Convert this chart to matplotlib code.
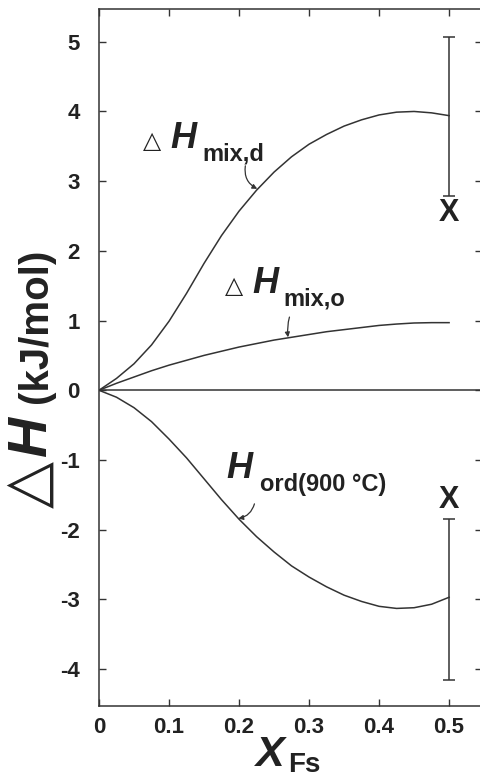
import numpy as np
import matplotlib
matplotlib.use('Agg')
import matplotlib.pyplot as plt

# mole fraction of Fs
x_fs = [0, 0.025, 0.05, 0.075, 0.1, 0.125, 0.15, 0.175, 0.2, 0.225, 0.25,
        0.275, 0.3, 0.325, 0.35, 0.375, 0.4, 0.425, 0.45, 0.475, 0.5]

# enthalpies (kJ/mol)
h_mix_d = [0, 0.17, 0.38, 0.65, 0.99, 1.39, 1.82, 2.22, 2.57, 2.87, 3.13,
           3.35, 3.53, 3.67, 3.79, 3.88, 3.95, 3.99, 4.0, 3.98, 3.94]
h_mix_o = [0, 0.1, 0.19, 0.28, 0.36, 0.43, 0.5, 0.56, 0.62, 0.67, 0.72,
           0.76, 0.8, 0.84, 0.87, 0.9, 0.93, 0.95, 0.965, 0.97, 0.97]
h_ord = [0, -0.1, -0.25, -0.45, -0.7, -0.97, -1.27, -1.57, -1.85, -2.1, -2.32,
         -2.52, -2.68, -2.82, -2.94, -3.03, -3.1, -3.13, -3.12, -3.07, -2.97]

# uncertainty bars at X = 0.5
bar_x = [0.5, 0.5]
bar_lo = [2.79, -4.15]
bar_hi = [5.07, -1.85]

xticks = [0, 0.1, 0.2, 0.3, 0.4, 0.5]
xticklabels = ['0', '0.1', '0.2', '0.3', '0.4', '0.5']
yticks = [-4, -3, -2, -1, 0, 1, 2, 3, 4, 5]

ink = '#333333'
txt = '#222222'
plt.rcParams['font.family'] = ['Liberation Sans', 'DejaVu Sans']
plt.rcParams['axes.unicode_minus'] = False

W, H = 481, 780
fig = plt.figure(figsize=(W / 100, H / 100), dpi=100)
ax = fig.add_axes([99 / W, 1 - 706 / H, (482 - 99) / W, 697 / H])

def fx(px):
    return px / W

def fy(py):
    return 1 - py / H

# curves
ax.plot(x_fs, h_mix_d, color=ink, lw=1.1)
ax.plot(x_fs, h_mix_o, color=ink, lw=1.1)
ax.plot(x_fs, h_ord, color=ink, lw=1.1)
ax.axhline(0, color=ink, lw=1.1)

# error bars
mid = [(a + b) / 2 for a, b in zip(bar_lo, bar_hi)]
half = [(b - a) / 2 for a, b in zip(bar_lo, bar_hi)]
ax.errorbar(bar_x, mid, yerr=half, fmt='none', ecolor=ink, elinewidth=1.1,
            capsize=4.5, capthick=1.1)
ax.text(0.5, 2.55, 'X', ha='center', va='center', fontsize=22,
        fontweight='bold', color=txt)
ax.text(0.5, -1.58, 'X', ha='center', va='center', fontsize=22,
        fontweight='bold', color=txt)

ax.set_xlim(0, 0.547)
ax.set_ylim(-4.53, 5.47)
ax.set_xticks(xticks)
ax.set_xticklabels(xticklabels)
ax.set_yticks(yticks)
ax.tick_params(direction='in', length=5, width=1, color=ink,
               top=True, right=True, labelsize=16, labelcolor=txt)
ax.tick_params(axis='x', pad=8)
ax.tick_params(axis='y', pad=14)
for lab in ax.get_xticklabels() + ax.get_yticklabels():
    lab.set_fontweight('bold')
for s in ax.spines.values():
    s.set_color(ink)
    s.set_linewidth(1.1)

# curve labels: triangle, italic H, bold subscript (pixel positions)
def curve_label(tri_x, h_x, sub_x, base, sub):
    if tri_x is not None:
        fig.text(fx(tri_x), fy(base), '\u25b3', fontsize=17,
                 family=['DejaVu Sans'], ha='left', va='baseline', color=txt)
    fig.text(fx(h_x), fy(base), 'H', fontsize=26, fontweight='bold',
             style='italic', ha='left', va='baseline', color=txt)
    fig.text(fx(sub_x), fy(base + 13), sub, fontsize=17,
             fontweight='bold', ha='left', va='baseline', color=txt)

curve_label(143, 170, 202, 148, 'mix,d')
curve_label(225, 252, 283, 293, 'mix,o')
curve_label(None, 226, 260, 478, 'ord(900 \u00b0C)')

# small curved pointers
arrow = dict(arrowstyle='-|>', color=ink, lw=0.9, mutation_scale=7,
             shrinkA=0, shrinkB=0)
ax.annotate('', xy=(0.226, 2.89), xytext=(0.209, 3.22),
            arrowprops=dict(connectionstyle='arc3,rad=0.35', **arrow))
ax.annotate('', xy=(0.27, 0.76), xytext=(0.272, 1.05),
            arrowprops=dict(connectionstyle='arc3,rad=0.1', **arrow))
ax.annotate('', xy=(0.199, -1.84), xytext=(0.222, -1.63),
            arrowprops=dict(connectionstyle='arc3,rad=-0.3', **arrow))

# axis labels
fig.text(fx(30), fy(485), '\u25b3', fontsize=44, family=['DejaVu Sans'],
         rotation=90, ha='center', va='center', color=txt)
fig.text(fx(32), fy(437), 'H', fontsize=40, fontweight='bold', style='italic',
         rotation=90, ha='center', va='center', color=txt)
fig.text(fx(36), fy(326), '(kJ/mol)', fontsize=29, fontweight='bold',
         rotation=90, ha='center', va='center', color=txt)

fig.text(fx(270), fy(755), 'X', fontsize=31, fontweight='bold', style='italic',
         ha='center', va='center', color=txt)
fig.text(fx(288), fy(772), 'Fs', fontsize=20, fontweight='bold',
         ha='left', va='baseline', color=txt)

fig.savefig('out.png', dpi=100)
